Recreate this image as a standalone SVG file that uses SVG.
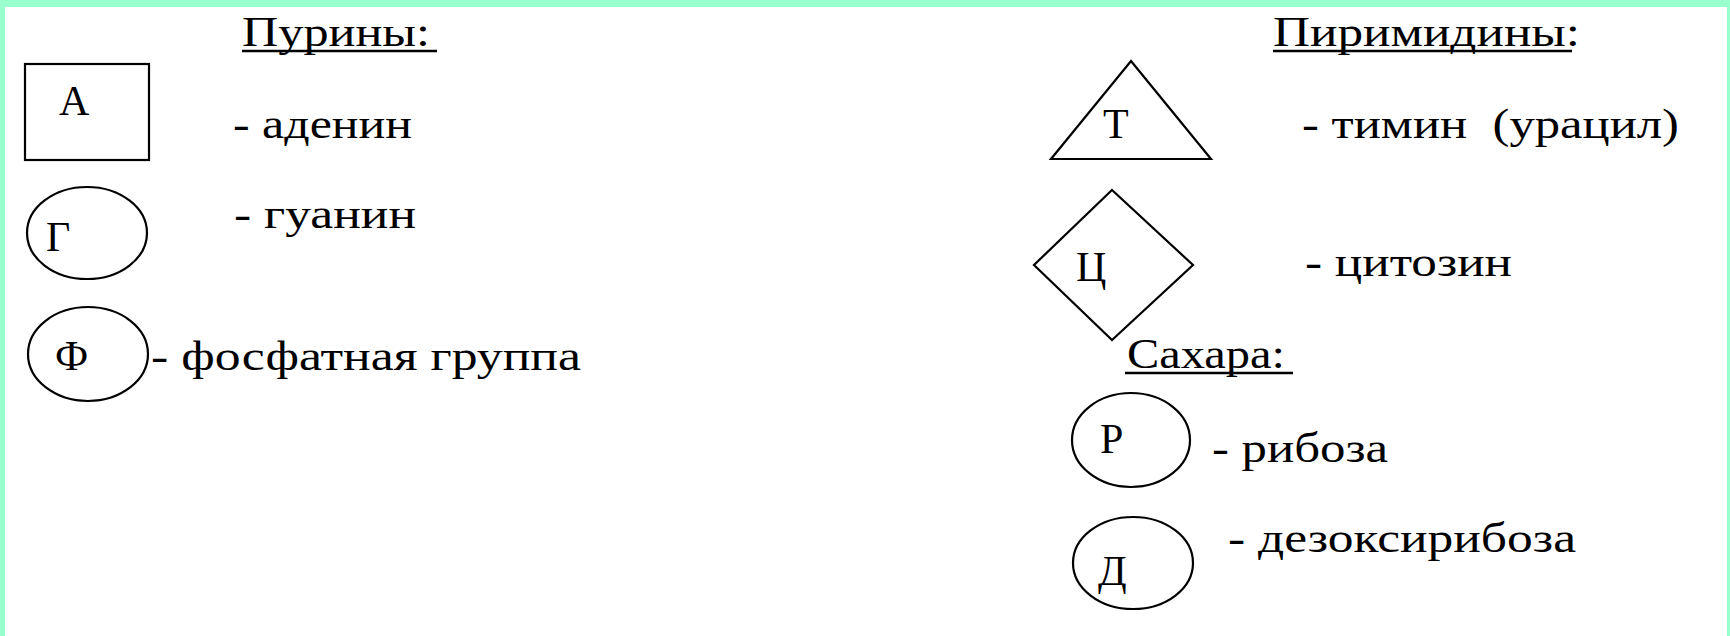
<svg xmlns="http://www.w3.org/2000/svg" width="1730" height="636" viewBox="0 0 1730 636">
<style>
.t{font-family:"Liberation Serif","DejaVu Serif",serif;font-size:42px;fill:#000}
.s{fill:none;stroke:#000;stroke-width:2.2}
.u{stroke:#000;stroke-width:2.5}
</style>
<rect x="0" y="0" width="1730" height="636" fill="#fff"/>
<rect x="0" y="0" width="1730" height="7" fill="#99FFCC"/>
<rect x="0" y="0" width="5" height="636" fill="#99FFCC"/>
<rect x="1727" y="0" width="3" height="636" fill="#99FFCC"/>
<g id="purines-title">
<text class="t" x="242" y="46" textLength="188" lengthAdjust="spacingAndGlyphs">Пурины:</text>
<line class="u" x1="242" y1="51" x2="437" y2="51"/>
</g>
<g id="node-A">
<rect class="s" x="25" y="64" width="124" height="96" stroke-width="3"/>
<text class="t" x="59" y="115">А</text>
<text class="t" x="233" y="138" textLength="179" lengthAdjust="spacingAndGlyphs">- аденин</text>
</g>
<g id="node-G">
<ellipse class="s" cx="87" cy="233" rx="60" ry="46"/>
<text class="t" x="46" y="251">Г</text>
<text class="t" x="234" y="228" textLength="182" lengthAdjust="spacingAndGlyphs">- гуанин</text>
</g>
<g id="node-F">
<ellipse class="s" cx="88" cy="354" rx="60" ry="47"/>
<text class="t" x="55" y="370">Ф</text>
<text class="t" x="151" y="370" textLength="430" lengthAdjust="spacingAndGlyphs">- фосфатная группа</text>
</g>
<g id="pyrimidines-title">
<text class="t" x="1273" y="46" textLength="307" lengthAdjust="spacingAndGlyphs">Пиримидины:</text>
<line class="u" x1="1273" y1="51" x2="1572" y2="51"/>
</g>
<g id="node-T">
<polygon class="s" points="1131,61 1211,159 1051,159"/>
<text class="t" x="1103" y="138">Т</text>
<text class="t" x="1302" y="138" textLength="377" lengthAdjust="spacingAndGlyphs">- тимин&#160; (урацил)</text>
</g>
<g id="node-C">
<polygon class="s" points="1112,190 1193,265 1112,340 1034,265"/>
<text class="t" x="1076" y="281">Ц</text>
<text class="t" x="1305" y="276" textLength="207" lengthAdjust="spacingAndGlyphs">- цитозин</text>
</g>
<g id="sugars-title">
<text class="t" x="1127" y="368" textLength="158" lengthAdjust="spacingAndGlyphs">Сахара:</text>
<line class="u" x1="1125" y1="373" x2="1293" y2="373"/>
</g>
<g id="node-R">
<ellipse class="s" cx="1131" cy="440" rx="59" ry="47"/>
<text class="t" x="1100" y="453">Р</text>
<text class="t" x="1212" y="462" textLength="176" lengthAdjust="spacingAndGlyphs">- рибоза</text>
</g>
<g id="node-D">
<ellipse class="s" cx="1133" cy="563" rx="60" ry="46"/>
<text class="t" x="1098" y="585">Д</text>
<text class="t" x="1228" y="552" textLength="348" lengthAdjust="spacingAndGlyphs">- дезоксирибоза</text>
</g>
<g id="connectors"/>
</svg>
